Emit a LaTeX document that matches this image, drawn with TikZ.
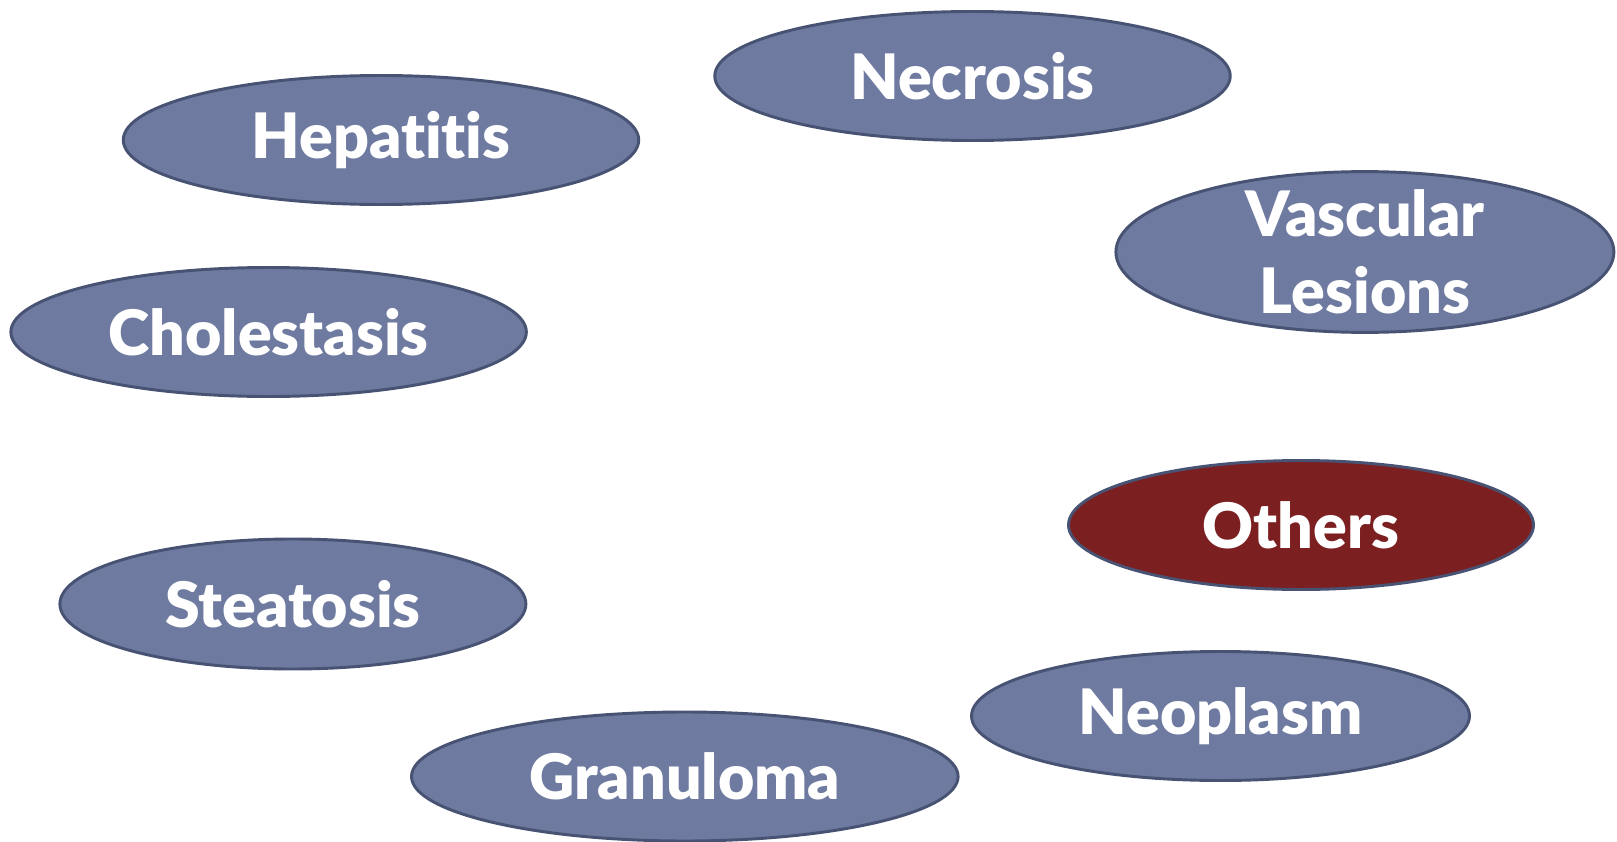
\documentclass[tikz,border=0pt]{standalone}
\usepackage{fontspec}
\setmainfont[Ligatures=NoCommon,BoldFont={Lato Black}]{Lato}
\usetikzlibrary{shapes.geometric}

\definecolor{lesionblue}{HTML}{6E7AA0}
\definecolor{lesionedge}{HTML}{485273}
\definecolor{otherred}{HTML}{7B1F20}

\begin{document}
\begin{tikzpicture}[x=0.75pt,y=-0.75pt,
    lesion/.style={draw=lesionedge,line width=2.2pt,fill=lesionblue,ellipse,inner sep=0pt,align=center,text=white,font=\fontsize{47}{50}\selectfont\bfseries}]
        \useasboundingbox (0,0) rectangle (1617,842);
        \node[lesion,minimum width=515.5pt*0.75,minimum height=129pt*0.75] (necrosis) at (972.5,76) {Necrosis};
        \node[lesion,minimum width=515.5pt*0.75,minimum height=129pt*0.75] (hepatitis) at (381,140) {Hepatitis};
        \node[lesion,minimum width=498pt*0.75,minimum height=160.8pt*0.75,inner ysep=-14pt,font=\fontsize{47}{58}\selectfont\bfseries] (vascular) at (1364.9,252) {Vascular\\Lesions};
        \node[lesion,minimum width=515.5pt*0.75,minimum height=129pt*0.75] (cholestasis) at (268.6,332) {Cholestasis};
        \node[lesion,minimum width=465pt*0.75,minimum height=129pt*0.75,fill=otherred] (others) at (1301,525) {Others};
        \node[lesion,minimum width=466pt*0.75,minimum height=130pt*0.75] (steatosis) at (292.9,604) {Steatosis};
        \node[lesion,minimum width=498pt*0.75,minimum height=129pt*0.75] (neoplasm) at (1220.5,716) {Neoplasm};
        \node[lesion,minimum width=546.6pt*0.75,minimum height=129pt*0.75] (granuloma) at (684.8,776.5) {Granuloma};
    \end{tikzpicture}
\end{document}
